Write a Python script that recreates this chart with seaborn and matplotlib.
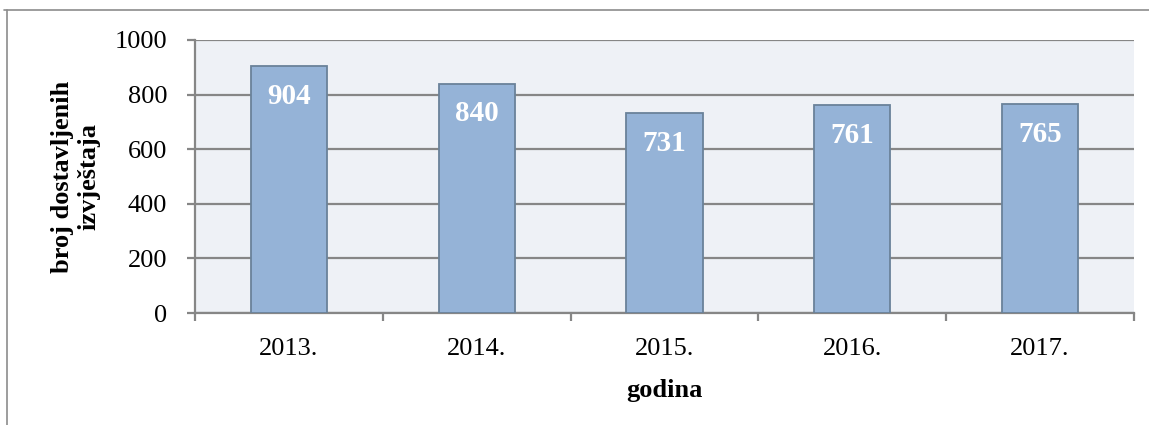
import matplotlib
matplotlib.use("Agg")
import matplotlib.pyplot as plt
import seaborn as sns
import pandas as pd
from matplotlib.lines import Line2D

years = ["2013.", "2014.", "2015.", "2016.", "2017."]
reports = [904, 840, 731, 761, 765]
y_ticks = [0, 200, 400, 600, 800, 1000]

sns.set_theme(style="white")
plt.rcParams["font.family"] = ["Liberation Serif", "DejaVu Serif"]
plt.rcParams["text.color"] = "black"
plt.rcParams["xtick.color"] = "black"
plt.rcParams["ytick.color"] = "black"
plt.rcParams["axes.labelcolor"] = "black"

W, H = 1149, 425
fig = plt.figure(figsize=(W / 100, H / 100), dpi=100)
ax = fig.add_axes([195 / W, 1 - 313 / H, (1134 - 195) / W, (313 - 40) / H])

df = pd.DataFrame({"godina": years, "broj": reports})
sns.barplot(data=df, x="godina", y="broj", color="#95B3D7", saturation=1,
            edgecolor="#6A8299", linewidth=1.3, width=0.405, ax=ax, zorder=3)

ax.set_facecolor("#EEF1F6")
ax.set_ylim(0, 1000)
ax.set_xlim(-0.5, len(years) - 0.5)
ax.set_yticks(y_ticks)
ax.set_yticklabels([str(v) for v in y_ticks], fontsize=19)
ax.yaxis.grid(True, color="#868686", linewidth=1.6, zorder=1)
ax.set_axisbelow(True)

for s in ["top", "right"]:
    ax.spines[s].set_visible(False)
for s in ["left", "bottom"]:
    ax.spines[s].set_color("#868686")
    ax.spines[s].set_linewidth(1.6)

ax.tick_params(axis="y", which="major", direction="out", length=6, width=1.6,
               color="#868686", labelcolor="black", pad=14, left=True)
ax.set_xticks(range(len(years)))
ax.set_xticklabels(years, fontsize=19)
ax.set_xticks([i - 0.5 for i in range(len(years) + 1)], minor=True)
ax.tick_params(axis="x", which="major", length=0, pad=18, bottom=True,
               labelcolor="black")
ax.tick_params(axis="x", which="minor", direction="out", length=6, width=1.6,
               color="#868686", bottom=True)

ax.set_xlabel("godina", fontsize=19, fontweight="bold", labelpad=14)
ax.set_ylabel("broj dostavljenih\nizvještaja", fontsize=19, fontweight="bold",
              linespacing=1.2)
ax.yaxis.set_label_coords(-0.101, 0.5)

for i, v in enumerate(reports):
    ax.annotate(str(v), xy=(i, v), xytext=(0, -30), textcoords="offset pixels",
                ha="center", va="center", color="white", fontsize=21,
                fontweight="bold", zorder=5)

fig.add_artist(Line2D([4 / W, 1], [1 - 10 / H, 1 - 10 / H], transform=fig.transFigure,
                      color="#8C8C8C", linewidth=1.2))
fig.add_artist(Line2D([7 / W, 7 / W], [0, 1 - 10 / H], transform=fig.transFigure,
                      color="#8C8C8C", linewidth=1.2))

fig.savefig("out.png", dpi=100, facecolor="white")
